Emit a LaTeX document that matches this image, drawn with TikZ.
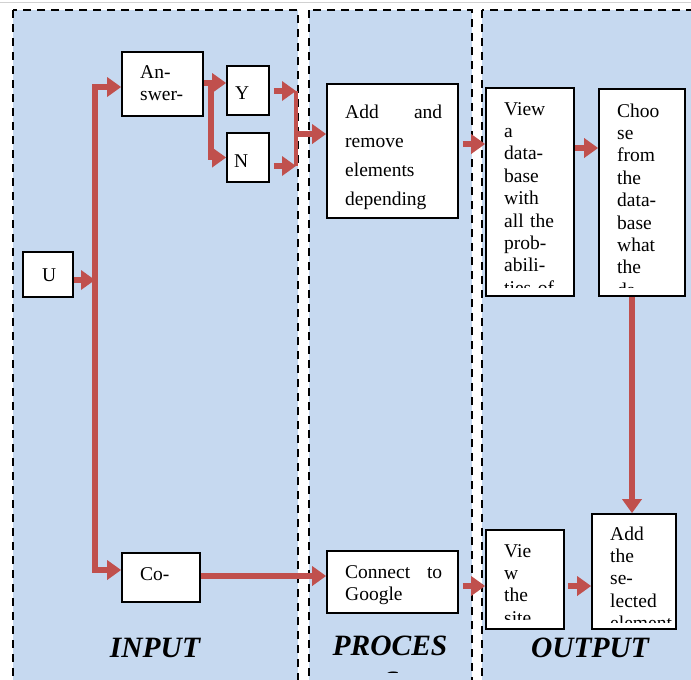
\documentclass[tikz,border=0pt]{standalone}
\usepackage{fontspec}
\setmainfont{Liberation Serif}
\usetikzlibrary{arrows.meta,calc}
\definecolor{panelblue}{HTML}{C6D9F0}
\definecolor{arrred}{HTML}{C0504D}
\tikzset{
  panel/.style={fill=panelblue, draw=black, line width=2pt, dash pattern=on 8pt off 6pt},
  box/.style={draw=black, fill=white, line width=1.7pt, inner sep=0pt},
  boxtext/.style={anchor=base west, inner sep=0pt, align=left, text width=#1, font=\fontsize{19.5}{22.4}\selectfont},
  arr/.style={draw=arrred, line width=5.5pt, line join=miter, -{Triangle[length=14pt,width=19pt]}},
  arrline/.style={draw=arrred, line width=4.5pt},
  lbl/.style={font=\fontsize{29.5}{30}\selectfont\bfseries\itshape, inner sep=0pt, anchor=base},
}
\begin{document}
\begin{tikzpicture}[x=1pt,y=-1pt]
\useasboundingbox (0,0) rectangle (691,680);
\clip (0,0) rectangle (691,680);
% panels
\path[panel] (13,10) rectangle (298,700);
\path[panel] (309,10) rectangle (472,700);
\path[panel] (482,10) rectangle (710,700);
\draw[black!18, line width=1pt] (0,2.5) -- (691,2.5);
% boxes
\node[box, minimum width=50pt, minimum height=45pt] (U) at (48,274.5) {};
\node[box, minimum width=81pt, minimum height=64pt] (Ans) at (162.5,84) {};
\node[box, minimum width=42pt, minimum height=49pt] (Y) at (248,90.5) {};
\node[box, minimum width=42pt, minimum height=49pt] (N) at (248,157.5) {};
\node[box, minimum width=78pt, minimum height=49pt] (Co) at (161,577.5) {};
\node[box, minimum width=131pt, minimum height=134pt] (Add) at (392.5,151) {};
\node[box, minimum width=88pt, minimum height=208pt] (View) at (530,192) {};
\node[box, minimum width=86pt, minimum height=207pt] (Choose) at (642,192.5) {};
\node[box, minimum width=131pt, minimum height=62pt] (Connect) at (392.5,582) {};
\node[box, minimum width=78pt, minimum height=99pt] (ViewSite) at (525,579.5) {};
\node[box, minimum width=84pt, minimum height=115pt] (AddSel) at (634,571.5) {};
% connectors
\coordinate (uBus) at (95,280);
\coordinate (busTop) at (95,87);
\coordinate (busBot) at (95,570);
\draw[arr] (uBus) -- (busTop) -- (Ans.west |- busTop);
\draw[arr] (uBus) -- (busBot) -- (Co.west |- busBot);
\draw[arr] (U.east |- uBus) -- (uBus);
\coordinate (ay) at (211,83);
\draw[arr] (Ans.east |- ay) -- (Y.west |- ay);
\draw[arr] (ay) |- (N.west);
\coordinate (b2t) at (296,91);
\coordinate (b2b) at (296,166);
\coordinate (b2m) at (296,134);
\draw[arr] ($(Y.east |- b2t)+(4,0)$) -- (b2t);
\draw[arr] ($(N.east |- b2b)+(4,0)$) -- (b2b);
\draw[arrline] (b2t) -- (b2b);
\draw[arr] (b2m) -- (Add.west |- b2m);
\coordinate (av) at (0,144);
\draw[arr] ($(Add.east |- av)+(4,0)$) -- (View.west |- av);
\coordinate (vc) at (0,148);
\draw[arr] (View.east |- vc) -- (Choose.west |- vc);
\coordinate (cs) at (632,0);
\draw[arr] (Choose.south -| cs) -- (AddSel.north -| cs);
\coordinate (cc) at (0,576);
\draw[arr] (Co.east |- cc) -- (Connect.west |- cc);
\coordinate (cv) at (0,586);
\draw[arr] ($(Connect.east |- cv)+(4,0)$) -- (ViewSite.west |- cv);
\draw[arr] ($(ViewSite.east |- cv)+(3,0)$) -- (AddSel.west |- cv);
% texts
\node[boxtext=30pt] (tU) at (42,281) {U};
\node[boxtext=60pt] (tAns) at (140,78) {An-\\swer-};
\node[boxtext=30pt] (tY) at (235,99) {Y};
\node[boxtext=30pt] (tN) at (234,167) {N};
\node[boxtext=60pt] (tCo) at (140,580) {Co-};
\node[boxtext=97pt, font=\fontsize{19.5}{29}\selectfont] (tAdd) at (345,118)
  {\hbox to 97pt{Add\hfill and}\\remove\\elements\\depending};
\begin{scope}
  \clip (486,88) rectangle (574,287);
  \node[boxtext=66pt] (tView) at (504,115)
    {View\\a\\data-\\base\\with\\all the\\prob-\\abili-\\ties of};
\end{scope}
\begin{scope}
  \clip (599,89) rectangle (685,287);
  \node[boxtext=64pt] (tChoose) at (617,117)
    {Choo\\se\\from\\the\\data-\\base\\what\\the\\da-};
\end{scope}
\node[boxtext=97pt] (tConnect) at (345,578) {\hbox to 97pt{Connect\hfill to}\\Google};
\begin{scope}
  \clip (486,530) rectangle (564,619);
  \node[boxtext=56pt] (tSite) at (504,557) {Vie\\w\\the\\site};
\end{scope}
\begin{scope}
  \clip (592,514) rectangle (676,622);
  \node[boxtext=62pt] (tSel) at (610,540) {Add\\the\\se-\\lected\\element};
\end{scope}
% panel labels
\node[lbl] (lIn) at (155,657) {INPUT};
\node[lbl] (lProc) at (390,655) {PROCES};
\node[lbl] (lOut) at (590,657) {OUTPUT};
\begin{scope}
  \clip (370,660) rectangle (410,672);
  \node[lbl] (lProcS) at (391,691) {S};
\end{scope}
\end{tikzpicture}
\end{document}
